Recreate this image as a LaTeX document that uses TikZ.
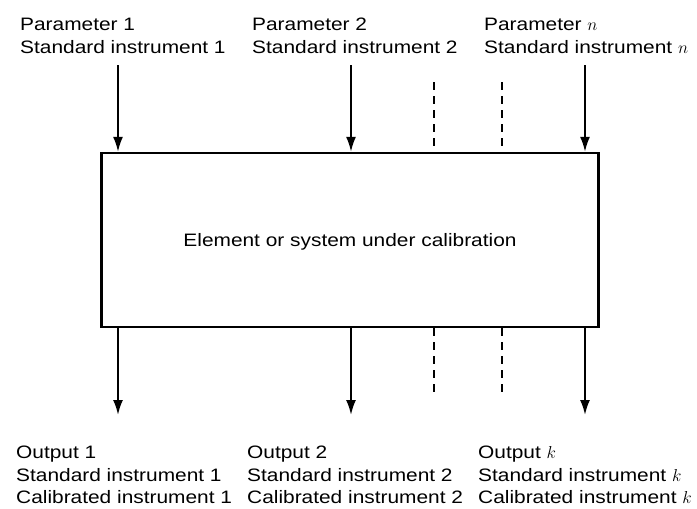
\documentclass[tikz,border=0pt]{standalone}
\usepackage{fontspec}
\setmainfont{Liberation Sans}[FakeStretch=1.16]
\usetikzlibrary{arrows.meta}
\begin{document}
\begin{tikzpicture}[x=1pt,y=-1pt,
  lbl/.style={anchor=north west,inner sep=0pt,align=left,font=\fontsize{18}{22.5}\selectfont},
  arr/.style={line width=2pt,-{Latex[length=15pt,width=10pt]}},
  dsh/.style={line width=2.2pt,dash pattern=on 8pt off 6pt},
  sysbox/.style={draw,line width=2.3pt,minimum width=497pt,minimum height=174pt,inner sep=0pt,text depth=0pt,font=\fontsize{18}{22.5}\selectfont}]
\useasboundingbox (0,0) rectangle (697,509);
\node[sysbox] (sys) at (350,240) {Element or system under calibration};
% top labels
\node[lbl] (t1) at (20,18) {Parameter 1\\Standard instrument 1};
\node[lbl] (t2) at (252,18) {Parameter 2\\Standard instrument 2};
\node[lbl] (t3) at (484,18) {Parameter $n$\\Standard instrument $n$};
% bottom labels
\node[lbl] (b1) at (16,446) {Output 1\\Standard instrument 1\\Calibrated instrument 1};
\node[lbl] (b2) at (247,446) {Output 2\\Standard instrument 2\\Calibrated instrument 2};
\node[lbl] (b3) at (478,446) {Output $k$\\Standard instrument $k$\\Calibrated instrument $k$};
% connector ends
\coordinate (i1) at (118,65);
\coordinate (i2) at (351,65);
\coordinate (i3) at (585,65);
\coordinate (d1) at (434,82);
\coordinate (d2) at (502,82);
\coordinate (o1) at (118,415);
\coordinate (o2) at (351,415);
\coordinate (o3) at (585,415);
\coordinate (e1) at (434,398);
\coordinate (e2) at (502,398);
\draw[arr] (i1) -- (i1 |- sys.north);
\draw[arr] (i2) -- (i2 |- sys.north);
\draw[arr] (i3) -- (i3 |- sys.north);
\draw[dsh] (d1) -- (d1 |- sys.north);
\draw[dsh] (d2) -- (d2 |- sys.north);
\draw[arr] (o1 |- sys.south) -- (o1);
\draw[arr] (o2 |- sys.south) -- (o2);
\draw[arr] (o3 |- sys.south) -- (o3);
\draw[dsh] (e1 |- sys.south) -- (e1);
\draw[dsh] (e2 |- sys.south) -- (e2);
\end{tikzpicture}
\end{document}
